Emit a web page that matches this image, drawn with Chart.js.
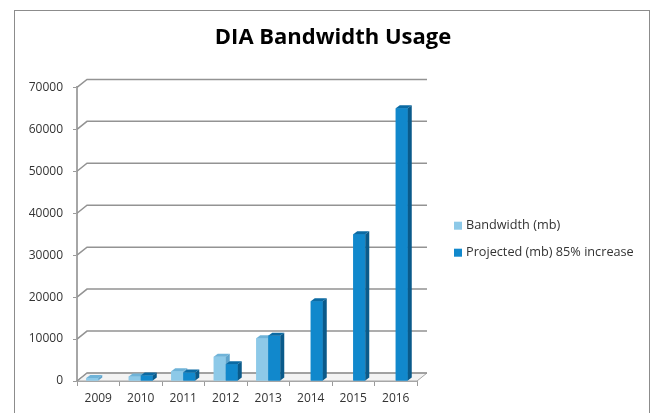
<!DOCTYPE html>
<html>
<head>
<meta charset="utf-8">
<script src="https://cdn.jsdelivr.net/npm/chart.js@4/dist/chart.umd.min.js"></script>
<style>
  body { margin: 0; background: #fff; }
  #wrap { position: relative; width: 652px; height: 413px; }
  #frame { position: absolute; left: 14px; top: 10px; width: 634px; height: 420px; border: 1px solid #8c8c8c; pointer-events: none; }
</style>
</head>
<body>
<div id="wrap">
  <canvas id="bwChart" width="652" height="413"></canvas>
  <div id="frame"></div>
</div>
<script>
const years = ["2009", "2010", "2011", "2012", "2013", "2014", "2015", "2016"];
const bandwidth = [700, 1100, 2300, 5800, 10200, null, null, null];
const projected = [null, 1300, 2000, 4000, 10800, 19000, 35000, 65000];
const yTicks = [0, 10000, 20000, 30000, 40000, 50000, 60000, 70000];

const faceColors = ["#8dc9e8", "#1188cc"];
const topColors = ["#6fb3d8", "#0b6aa3"];
const sideColors = ["#5fa4cc", "#0a5a8a"];

// depth of the fake 3d look
const DX = 4, DY = 3;
const WALL_DX = 10, WALL_DY = 8;

const threeD = {
  id: "threeD",
  beforeDatasetsDraw(chart) {
    const ctx = chart.ctx;
    const { left, right, bottom } = chart.chartArea;
    const y = chart.scales.y;
    ctx.save();
    // floor
    ctx.beginPath();
    ctx.moveTo(left, bottom);
    ctx.lineTo(right, bottom);
    ctx.lineTo(right + WALL_DX, bottom - WALL_DY);
    ctx.lineTo(left + WALL_DX, bottom - WALL_DY);
    ctx.closePath();
    ctx.fillStyle = "#f3f3f3";
    ctx.fill();
    ctx.strokeStyle = "#a6a6a6";
    ctx.lineWidth = 1;
    ctx.stroke();
    // back wall gridlines
    ctx.strokeStyle = "#939393";
    ctx.lineWidth = 1.5;
    y.ticks.forEach(t => {
      const py = y.getPixelForValue(t.value);
      ctx.beginPath();
      ctx.moveTo(left, py);
      ctx.lineTo(left + WALL_DX, py - WALL_DY);
      ctx.lineTo(right + WALL_DX, py - WALL_DY);
      ctx.stroke();
    });
    ctx.restore();
  },
  afterDatasetsDraw(chart) {
    const ctx = chart.ctx;
    ctx.save();
    chart.data.datasets.forEach((ds, i) => {
      const meta = chart.getDatasetMeta(i);
      meta.data.forEach((bar, j) => {
        if (ds.data[j] == null) return;
        const p = bar.getProps(["x", "y", "base", "width"], true);
        const l = p.x - p.width / 2, r = p.x + p.width / 2;
        ctx.fillStyle = faceColors[i];
        ctx.fillRect(l, p.y, p.width, p.base - p.y);
        ctx.fillStyle = topColors[i];
        ctx.beginPath();
        ctx.moveTo(l, p.y);
        ctx.lineTo(l + DX, p.y - DY);
        ctx.lineTo(r + DX, p.y - DY);
        ctx.lineTo(r, p.y);
        ctx.closePath();
        ctx.fill();
        ctx.fillStyle = sideColors[i];
        ctx.beginPath();
        ctx.moveTo(r, p.y);
        ctx.lineTo(r + DX, p.y - DY);
        ctx.lineTo(r + DX, p.base - DY);
        ctx.lineTo(r, p.base);
        ctx.closePath();
        ctx.fill();
      });
    });
    ctx.restore();
  },
  // legend drawn by hand: the built-in one gets squeezed to half the width
  afterDraw(chart) {
    const ctx = chart.ctx;
    const { right, top, bottom } = chart.chartArea;
    const x = right + 37;
    const y0 = (top + bottom) / 2 + 5 - 13.5;
    ctx.save();
    ctx.font = "12.7px 'Open Sans', sans-serif";
    ctx.textBaseline = "middle";
    chart.data.datasets.forEach((ds, i) => {
      const cy = y0 + i * 27;
      ctx.fillStyle = faceColors[i];
      ctx.fillRect(x, cy - 4, 8, 8);
      ctx.fillStyle = "#333";
      ctx.fillText(ds.label, x + 12, cy);
    });
    ctx.restore();
  }
};

Chart.defaults.font.family = "'Open Sans', sans-serif";
Chart.defaults.color = "#333";

new Chart(document.getElementById("bwChart").getContext("2d"), {
  type: "bar",
  data: {
    labels: years,
    datasets: [
      {
        label: "Bandwidth (mb)",
        data: bandwidth,
        backgroundColor: faceColors[0],
        categoryPercentage: 0.565,
        barPercentage: 1,
      },
      {
        label: "Projected (mb) 85% increase",
        data: projected,
        backgroundColor: faceColors[1],
        categoryPercentage: 0.565,
        barPercentage: 1,
      },
    ],
  },
  options: {
    responsive: false,
    animation: false,
    layout: { padding: { top: 14, left: 14, right: 0, bottom: 0 } },
    plugins: {
      title: {
        display: true,
        text: "DIA Bandwidth Usage",
        color: "#000",
        font: { size: 22, weight: "bold" },
        padding: { top: 11, bottom: 36 },
      },
      legend: { display: false },
      tooltip: { enabled: false },
    },
    scales: {
      x: {
        grid: { display: true, drawOnChartArea: false, offset: true, tickLength: 5, color: "#9a9a9a" },
        border: { display: true, color: "#a6a6a6" },
        ticks: { padding: 5, font: { size: 12 } },
        afterFit(s) { s.height = 32; },
      },
      y: {
        min: 0,
        max: 70000,
        afterBuildTicks(s) { s.ticks = yTicks.map(v => ({ value: v })); },
        grid: { display: true, drawOnChartArea: false, tickLength: 4, color: "#9a9a9a" },
        border: { display: true, color: "#a6a6a6", width: 2 },
        ticks: { padding: 10, font: { size: 12 }, callback: v => String(v) },
        afterFit(s) { s.width = 63; },
      },
      // empty spacer right of the plot, room for the legend
      gap: {
        type: "linear",
        position: "right",
        display: false,
        afterFit(s) { s.width = 235; },
      },
    },
  },
  plugins: [threeD],
});
</script>
</body>
</html>
